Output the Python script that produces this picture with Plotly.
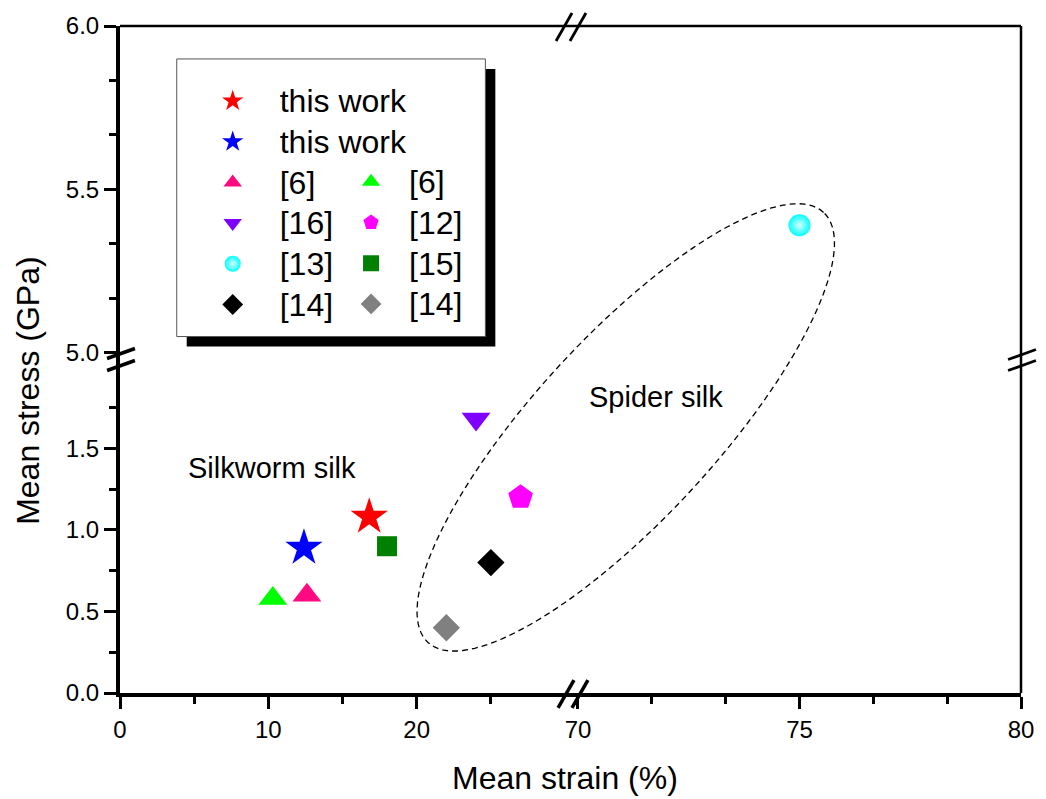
import numpy as np
import plotly.graph_objects as go

# ---------------- data ----------------
names = ["this work", "this work", "[6]", "[6]", "[16]", "[12]", "[13]", "[15]", "[14]", "[14]"]
strain = [16.8, 12.4, 12.6, 10.3, 24.0, 27.0, 75.0, 18.0, 25.0, 22.0]   # Mean strain (%)
stress = [1.08, 0.89, 0.60, 0.58, 1.68, 1.20, 5.39, 0.90, 0.80, 0.40]   # Mean stress (GPa)

x_low_ticks = [0, 10, 20]
x_high_ticks = [70, 75, 80]
y_low_ticks = [0.0, 0.5, 1.0, 1.5]
y_high_ticks = [5.0, 5.5, 6.0]

# ---------------- styles ----------------
symbols = ["star", "star", "triangle-up", "triangle-up", "triangle-down", "pentagon",
           "circle", "square", "diamond", "diamond"]
colors = ["#FF0000", "#0000FF", "#FF0A80", "#00FF00", "#8000FF", "#FF00FF",
          "#00FFFF", "#008000", "#000000", "#808080"]
msizes = [28, 28, 25, 25, 25, 26, 22, 20, 21, 21]
legend_of = ["legend", "legend", "legend", "legend2", "legend", "legend2",
             "legend", "legend2", "legend", "legend2"]

FONT = "Liberation Sans, Arial, sans-serif"
W, H = 1046, 799
L, R, T, B = 120, 1025, 25, 693          # plot area in pixels
PW, PH = R - L, B - T

def px(x):
    return (x - L) / PW

def py(y):
    return (B - y) / PH

# axis split geometry
x_split = px(570)
y_split = py(358)
x_low_range = [0, 30.2]
x_high_range = [69.775, 80]
y_low_range = [0, 2.051]
y_high_range = [4.9817, 6.0]

fig = go.Figure()

for i in range(len(names)):
    xa = "x2" if strain[i] >= x_high_range[0] else "x"
    ya = "y2" if stress[i] >= y_high_range[0] else "y"
    marker = dict(symbol=symbols[i], color=colors[i], size=msizes[i], line=dict(width=0))
    if symbols[i] == "circle":
        marker["gradient"] = dict(type="radial", color="#D8FFFF")
    fig.add_trace(go.Scatter(
        x=[strain[i]], y=[stress[i]], mode="markers",
        name='<span style="font-size:32px">%s</span>' % names[i],
        marker=marker, xaxis=xa, yaxis=ya, legend=legend_of[i],
        showlegend=True, cliponaxis=False,
    ))

axis_common = dict(
    showline=True, linecolor="black", linewidth=4, showgrid=False, zeroline=False,
    ticks="outside", ticklen=12, tickwidth=3, tickcolor="black",
    tickfont=dict(family=FONT, size=24, color="black"),
)
minor_common = dict(ticks="outside", ticklen=7, tickwidth=3, tickcolor="black", showgrid=False)

fig.update_layout(
    width=W, height=H, autosize=False,
    margin=dict(l=L, r=W - R, t=T, b=H - B, pad=0),
    paper_bgcolor="white", plot_bgcolor="white",
    font=dict(family=FONT, color="black"),
    xaxis=dict(domain=[0, x_split], range=x_low_range, anchor="y",
               tickmode="array", tickvals=x_low_ticks,
               minor=dict(tickmode="array", tickvals=[5, 15, 25], **minor_common),
               **axis_common),
    xaxis2=dict(domain=[x_split, 1], range=x_high_range, anchor="y",
                tickmode="array", tickvals=x_high_ticks,
                minor=dict(tick0=70, dtick=5 / 3, **minor_common),
                **axis_common),
    yaxis=dict(domain=[0, y_split], range=y_low_range, anchor="x",
               tickmode="array", tickvals=y_low_ticks, tickformat=".1f",
               minor=dict(tickmode="array", tickvals=[0.25, 0.75, 1.25, 1.75], **minor_common),
               **axis_common),
    yaxis2=dict(domain=[y_split, 1], range=y_high_range, anchor="x",
                tickmode="array", tickvals=y_high_ticks, tickformat=".1f",
                minor=dict(tick0=5, dtick=1 / 6, **minor_common),
                **axis_common),
    legend=dict(x=px(186), y=py(74.7), xanchor="left", yanchor="top",
                bgcolor="rgba(0,0,0,0)", borderwidth=0, itemwidth=84,
                font=dict(family=FONT, size=29, color="black"), traceorder="normal"),
    legend2=dict(x=px(334), y=py(155.7), xanchor="left", yanchor="top",
                 bgcolor="rgba(0,0,0,0)", borderwidth=0, itemwidth=66,
                 font=dict(family=FONT, size=29, color="black"), traceorder="normal"),
)

shapes = []
# legend frame with shadow
shapes.append(dict(type="rect", xref="paper", yref="paper",
                   x0=px(187), x1=px(497), y0=py(346), y1=py(68),
                   fillcolor="black", line=dict(width=0), layer="above"))
shapes.append(dict(type="rect", xref="paper", yref="paper",
                   x0=px(177), x1=px(487), y0=py(336), y1=py(58),
                   fillcolor="white", line=dict(color="#555555", width=1), layer="above"))
# top and right frame
shapes.append(dict(type="line", xref="paper", yref="paper", x0=0, x1=1, y0=1, y1=1,
                   line=dict(color="black", width=2.5), layer="above"))
shapes.append(dict(type="line", xref="paper", yref="paper", x0=1, x1=1, y0=0, y1=1,
                   line=dict(color="black", width=2.5), layer="above"))

# axis break marks
def slash(cx, cy, dx, dy, w=3.5):
    return dict(type="line", xref="paper", yref="paper",
                x0=px(cx - dx), y0=py(cy + dy), x1=px(cx + dx), y1=py(cy - dy),
                line=dict(color="black", width=w), layer="above")

for cx in (568, 582):
    shapes.append(slash(cx, 694, 8, 14))
    shapes.append(slash(cx - 2, 26, 8, 14, 2.8))
for cy in (353, 365):
    shapes.append(slash(121, cy, 14, 5))
for cy in (354, 365):
    shapes.append(slash(1026, cy, 14, 5, 2.8))

# dashed ellipse around spider silk
cx_e, cy_e, a_e, b_e, th = 628, 427, 293, 91, np.radians(47.3)
t = np.linspace(0, 2 * np.pi, 145)
ue = a_e * np.cos(t) * np.cos(th) - b_e * np.sin(t) * np.sin(th)
ve = a_e * np.cos(t) * np.sin(th) + b_e * np.sin(t) * np.cos(th)
pts = ["%.5f,%.5f" % (px(cx_e + u), py(cy_e - v)) for u, v in zip(ue, ve)]
path = "M" + " L".join(pts) + " Z"
shapes.append(dict(type="path", xref="paper", yref="paper", path=path,
                   line=dict(color="black", width=1.3, dash="6px,4px"), layer="above"))

fig.update_layout(shapes=shapes)

annotations = [
    dict(text="Silkworm silk", xref="paper", yref="paper", x=px(186), y=py(468),
         xanchor="left", yanchor="middle", showarrow=False,
         font=dict(family=FONT, size=29, color="black")),
    dict(text="Spider silk", xref="paper", yref="paper", x=px(589), y=py(397),
         xanchor="left", yanchor="middle", showarrow=False,
         font=dict(family=FONT, size=29, color="black")),
    dict(text="Mean strain (%)", xref="paper", yref="paper", x=px(567), y=py(778),
         xanchor="center", yanchor="middle", showarrow=False,
         font=dict(family=FONT, size=32, color="black")),
    dict(text="Mean stress (GPa)", xref="paper", yref="paper", x=px(28), y=py(390),
         xanchor="center", yanchor="middle", showarrow=False, textangle=-90,
         font=dict(family=FONT, size=32, color="black")),
]
fig.update_layout(annotations=annotations)

fig.write_html("out.html")
